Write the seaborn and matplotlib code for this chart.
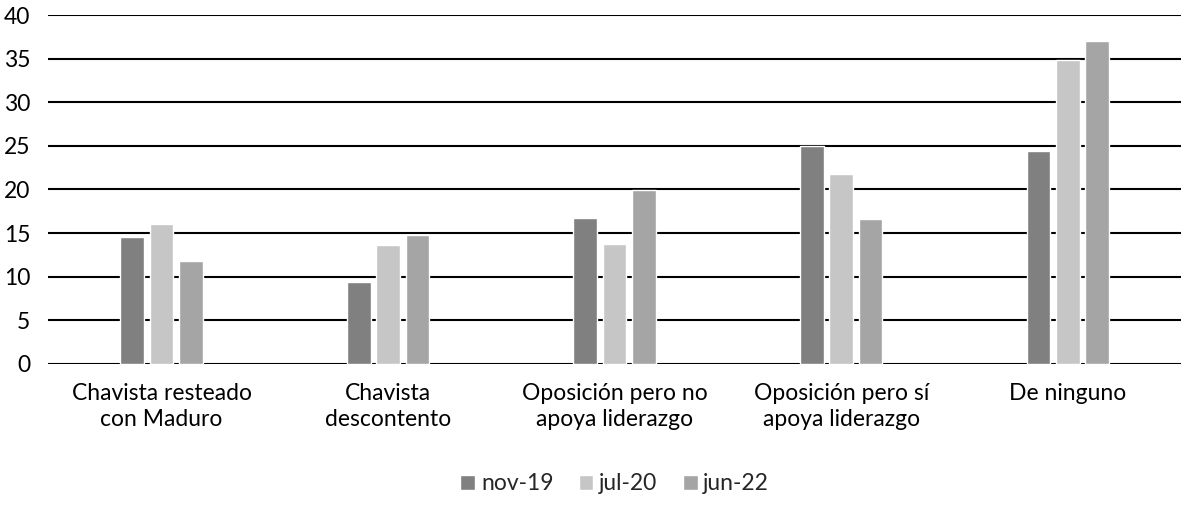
import matplotlib
matplotlib.use("Agg")
import matplotlib.pyplot as plt
import pandas as pd
import seaborn as sns

CATEGORIES = [
    "Chavista resteado\ncon Maduro",
    "Chavista\ndescontento",
    "Oposición pero no\napoya liderazgo",
    "Oposición pero sí\napoya liderazgo",
    "De ninguno",
]
SERIES = ["nov-19", "jul-20", "jun-22"]
NOV_19 = [14.6, 9.4, 16.7, 25.0, 24.4]
JUL_20 = [16.0, 13.6, 13.7, 21.8, 34.9]
JUN_22 = [11.8, 14.8, 19.9, 16.6, 37.0]
COLORS = ["#808080", "#c6c6c6", "#a5a5a5"]

frame = pd.DataFrame(
    {
        "categoria": CATEGORIES * 3,
        "serie": [s for s in SERIES for _ in CATEGORIES],
        "valor": NOV_19 + JUL_20 + JUN_22,
    }
)

sns.set_theme(style="white")
plt.rcParams["font.family"] = ["Lato", "DejaVu Sans"]

fig, ax = plt.subplots(figsize=(11.81, 5.22), dpi=100)
fig.subplots_adjust(left=0.041, right=1.0, top=0.971, bottom=0.303)

sns.barplot(
    data=frame,
    x="categoria",
    y="valor",
    hue="serie",
    palette=COLORS,
    width=0.39,
    gap=0.2,
    saturation=1,
    ax=ax,
)

ax.set_ylim(0, 40)
ax.set_yticks(range(0, 41, 5))
ax.yaxis.grid(True, color="black", linewidth=1.5)
ax.set_axisbelow(True)
for spine in ax.spines.values():
    spine.set_visible(False)
ax.set_xlabel("")
ax.set_ylabel("")
ax.tick_params(axis="both", length=0, labelsize=16.5, colors="black")
ax.tick_params(axis="x", pad=14)
ax.tick_params(axis="y", pad=13)
for label in ax.get_xticklabels():
    label.set_linespacing(1.3)

handles, labels = ax.get_legend_handles_labels()
ax.legend(
    handles,
    labels,
    loc="upper center",
    bbox_to_anchor=(0.5, -0.255),
    ncol=3,
    frameon=False,
    fontsize=16.5,
    handlelength=0.65,
    handleheight=0.65,
    handletextpad=0.25,
    columnspacing=1.1,
)

fig.savefig("out.png", dpi=100, facecolor="white")
